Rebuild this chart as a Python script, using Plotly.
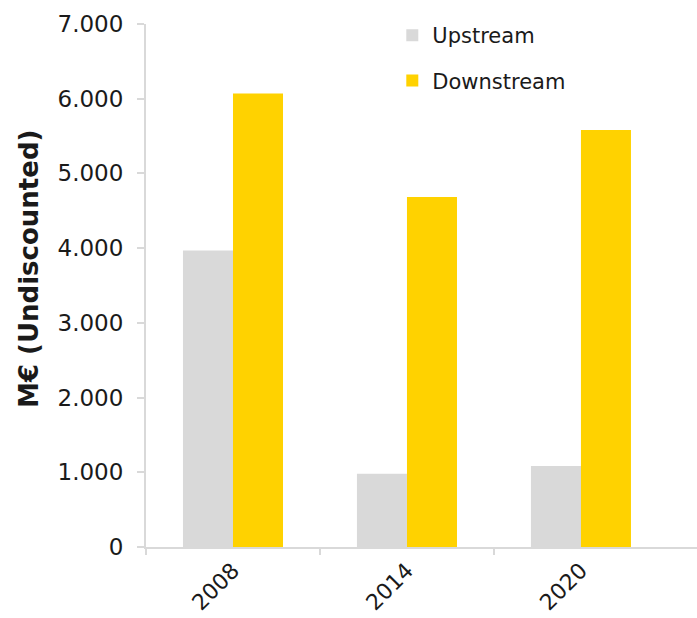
import plotly.graph_objects as go

# Data
years = ["2008", "2014", "2020"]
upstream = [3970, 980, 1085]
downstream = [6070, 4685, 5580]
y_ticks = [0, 1000, 2000, 3000, 4000, 5000, 6000, 7000]
y_tick_labels = ["0", "1.000", "2.000", "3.000", "4.000", "5.000", "6.000", "7.000"]
y_title = "M€ (Undiscounted)"

GREY = "#D9D9D9"
YELLOW = "#FFD200"
AXIS = "#D9D9D9"
FONT = "DejaVu Sans"

x_pos = list(range(len(years)))

fig = go.Figure()
fig.add_trace(go.Bar(x=x_pos, y=upstream, name="Upstream", marker_color=GREY,
                     marker_line_width=0, legendgroup="u"))
fig.add_trace(go.Bar(x=x_pos, y=downstream, name="Downstream", marker_color=YELLOW,
                     marker_line_width=0, legendgroup="d"))

# invisible trace on a second x axis that carries the boundary tick marks
fig.add_trace(go.Scatter(x=[-0.5], y=[0], xaxis="x2", mode="markers",
                         marker_opacity=0, showlegend=False, hoverinfo="skip"))

x_range = [-0.5, 2.667]

fig.update_layout(
    width=697, height=618,
    margin=dict(l=146, r=0, t=24, b=71),
    paper_bgcolor="white", plot_bgcolor="white",
    font=dict(family=FONT, size=22, color="#1a1a1a"),
    barmode="group", bargap=0.425, bargroupgap=0,
    showlegend=True,
    legend=dict(x=0.447, y=1.017, xanchor="left", yanchor="top",
                bgcolor="rgba(0,0,0,0)", font=dict(size=21),
                tracegroupgap=15, itemwidth=30),
    xaxis=dict(range=x_range, tickvals=x_pos, ticktext=years, tickangle=-45,
               ticks="", showline=True, linecolor=AXIS, linewidth=2,
               showgrid=False, zeroline=False, fixedrange=True,
               tickfont=dict(size=22)),
    xaxis2=dict(range=x_range, overlaying="x", side="bottom",
                tickvals=[-0.5, 0.5, 1.5], ticks="outside", ticklen=7,
                tickwidth=2, tickcolor=AXIS, showticklabels=False,
                showline=False, showgrid=False, zeroline=False),
    yaxis=dict(range=[0, 7000], tickvals=y_ticks, ticktext=y_tick_labels,
               ticks="outside", ticklen=7, tickwidth=2, tickcolor=AXIS,
               ticklabelstandoff=9, tickfont=dict(size=23),
               showline=True, linecolor=AXIS, linewidth=2,
               showgrid=False, zeroline=False),
    annotations=[dict(text=f"<b>{y_title}</b>", textangle=-90,
                      xref="paper", yref="paper", x=-0.212, y=0.532,
                      xanchor="center", yanchor="middle", showarrow=False,
                      font=dict(size=26, color="#1a1a1a"))],
)

fig.write_html("out.html")
